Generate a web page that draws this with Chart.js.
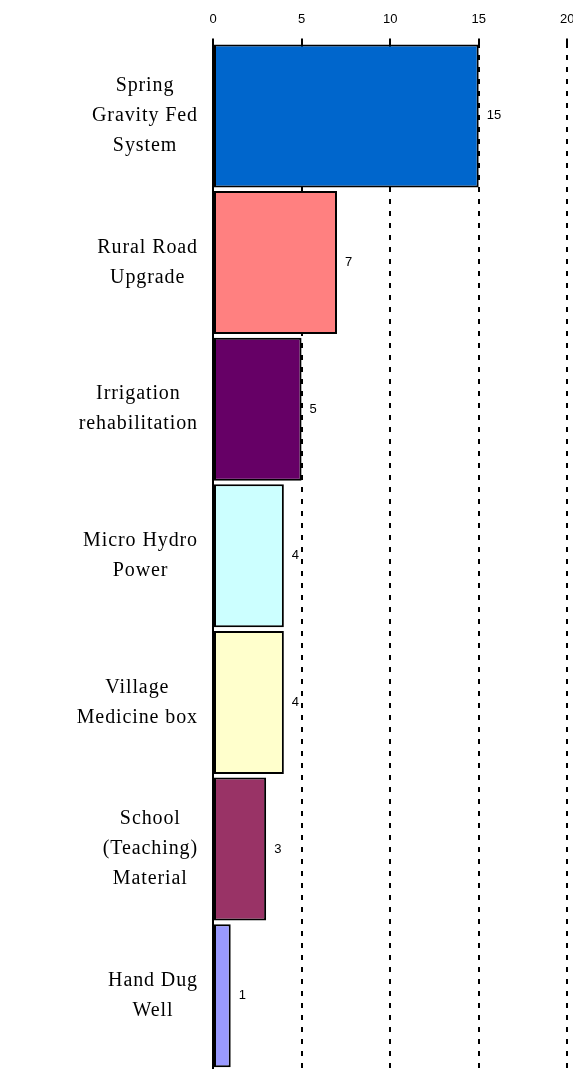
<!DOCTYPE html>
<html>
<head>
<meta charset="utf-8">
<script src="https://cdn.jsdelivr.net/npm/chart.js@4/dist/chart.umd.min.js"></script>
<style>
    html, body { margin: 0; padding: 0; background: #fff; overflow: hidden; }
</style>
</head>
<body>
<canvas id="projectsChart" width="586" height="1069"></canvas>
<script>
// Chart data
const categories = [
    ['Spring', 'Gravity Fed', 'System'],
    ['Rural Road', 'Upgrade'],
    ['Irrigation', 'rehabilitation'],
    ['Micro Hydro', 'Power'],
    ['Village', 'Medicine box'],
    ['School', '(Teaching)', 'Material'],
    ['Hand Dug', 'Well']
];
const projectCounts = [15, 7, 5, 4, 4, 3, 1];
const barColors = ['#0066CC', '#FF8080', '#660066', '#CCFFFF', '#FFFFCC', '#993366', '#9999FF'];
const xTicks = [0, 5, 10, 15, 20];

// Category labels (each line centered, block right aligned to the axis)
const categoryLabels = {
    id: 'categoryLabels',
    afterDraw(chart) {
        const ctx = chart.ctx;
        const yScale = chart.scales.y;
        const right = chart.chartArea.left - 15;
        const lineHeight = 30;
        ctx.save();
        ctx.font = '20px "Liberation Serif", "Times New Roman", serif';
        ctx.letterSpacing = '0.9px';
        ctx.fillStyle = '#000';
        ctx.textAlign = 'center';
        ctx.textBaseline = 'middle';
        categories.forEach((lines, i) => {
            const y = yScale.getPixelForValue(i);
            const maxW = Math.max(...lines.map(l => ctx.measureText(l).width));
            const cx = right - maxW / 2;
            const top = y - (lines.length - 1) * lineHeight / 2;
            lines.forEach((l, j) => ctx.fillText(l, cx, top + j * lineHeight));
        });
        ctx.restore();
    }
};

// Value labels to the right of each bar
const valueLabels = {
    id: 'valueLabels',
    afterDatasetsDraw(chart) {
        const ctx = chart.ctx;
        const meta = chart.getDatasetMeta(0);
        ctx.save();
        ctx.font = '13px "Liberation Sans", Arial, sans-serif';
        ctx.fillStyle = '#000';
        ctx.textAlign = 'left';
        ctx.textBaseline = 'middle';
        meta.data.forEach((bar, i) => {
            ctx.fillText(String(projectCounts[i]), bar.x + 8, bar.y);
        });
        ctx.restore();
    }
};

new Chart(document.getElementById('projectsChart'), {
    type: 'bar',
    data: {
        labels: categories.map(c => c.join(' ')),
        datasets: [{
            data: projectCounts,
            backgroundColor: barColors,
            borderColor: '#000',
            borderWidth: 2,
            borderSkipped: false,
            barPercentage: 0.975,
            categoryPercentage: 1
        }]
    },
    options: {
        indexAxis: 'y',
        responsive: false,
        animation: false,
        layout: { padding: { top: 0, right: 7, bottom: 0, left: 0 } },
        plugins: {
            legend: { display: false },
            tooltip: { enabled: false }
        },
        scales: {
            x: {
                position: 'top',
                min: 0,
                max: 20,
                afterBuildTicks: scale => { scale.ticks = xTicks.map(v => ({ value: v })); },
                ticks: {
                    color: '#000',
                    padding: 11.5,
                    font: { family: '"Liberation Sans", Arial, sans-serif', size: 13 }
                },
                grid: {
                    color: ctx => ctx.index === 0 ? 'rgba(0,0,0,0)' : '#000',
                    lineWidth: 2,
                    tickColor: '#000',
                    tickWidth: 2,
                    tickLength: 4
                },
                border: { display: false, dash: [5, 7] }
            },
            y: {
                afterFit: scale => { scale.width = 213; },
                ticks: { display: false },
                grid: { display: false, drawTicks: false },
                border: { display: true, color: '#000', width: 2 }
            }
        }
    },
    plugins: [valueLabels, categoryLabels]
});
</script>
</body>
</html>
